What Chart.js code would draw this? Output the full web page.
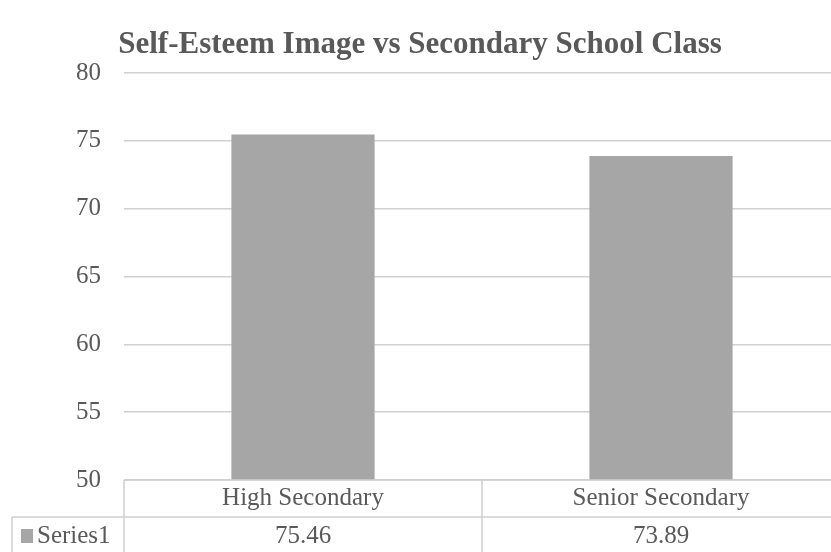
<!DOCTYPE html>
<html>
<head>
<meta charset="utf-8">
<script src="https://cdn.jsdelivr.net/npm/chart.js@4/dist/chart.umd.min.js"></script>
<style>
  html, body { margin: 0; padding: 0; background: #fff; overflow: hidden; }
  #wrap { width: 842px; height: 552px; }
</style>
</head>
<body>
<div id="wrap"><canvas id="c" width="842" height="552"></canvas></div>
<script>
const titleText = 'Self-Esteem Image vs Secondary School Class';
const categories = ['High Secondary', 'Senior Secondary'];
const seriesName = 'Series1';
const values = [75.46, 73.89];
const valueLabels = ['75.46', '73.89'];
const yMin = 50, yMax = 80, yStep = 5;

const textColor = '#595959';
const lineColor = '#d0d0d0';
const barColor = '#a6a6a6';
const serif = '"Liberation Serif", "Times New Roman", serif';

const dataTable = {
  id: 'dataTable',
  afterDraw(chart) {
    const ctx = chart.ctx;
    const area = chart.chartArea;
    const x = chart.scales.x;
    const n = categories.length;
    const catW = (area.right - area.left) / n;
    const top = area.bottom;
    const mid = 517;
    const bottom = chart.height;
    const rowLeft = 12;
    ctx.save();
    ctx.strokeStyle = lineColor;
    ctx.lineWidth = 1.5;
    ctx.beginPath();
    ctx.moveTo(area.left, top); ctx.lineTo(area.right, top);
    ctx.moveTo(rowLeft, mid); ctx.lineTo(area.right, mid);
    ctx.moveTo(rowLeft, mid); ctx.lineTo(rowLeft, bottom);
    for (let i = 0; i <= n; i++) {
      const cx = x.getPixelForValue(i) - catW / 2;
      ctx.moveTo(cx, top); ctx.lineTo(cx, bottom);
    }
    ctx.stroke();
    ctx.fillStyle = textColor;
    ctx.font = '25px ' + serif;
    ctx.textAlign = 'center';
    ctx.textBaseline = 'alphabetic';
    for (let i = 0; i < n; i++) {
      const cx = x.getPixelForValue(i);
      ctx.fillText(categories[i], cx, 505);
      ctx.fillText(valueLabels[i], cx, 543);
    }
    ctx.fillStyle = barColor;
    ctx.fillRect(21, 529, 12, 14);
    ctx.fillStyle = textColor;
    ctx.textAlign = 'left';
    ctx.fillText(seriesName, 37, 543);
    ctx.restore();
  }
};

new Chart(document.getElementById('c'), {
  type: 'bar',
  data: {
    labels: categories,
    datasets: [{
      label: seriesName,
      data: values,
      backgroundColor: barColor,
      borderWidth: 0,
      categoryPercentage: 1,
      barPercentage: 0.4
    }]
  },
  options: {
    responsive: false,
    animation: false,
    layout: { padding: { left: 0, right: 2, top: 0, bottom: 72 } },
    plugins: {
      legend: { display: false },
      tooltip: { enabled: false },
      title: {
        display: true,
        text: titleText,
        color: textColor,
        font: { family: serif, size: 31, weight: 'bold', lineHeight: 1.2 },
        padding: { top: 26, bottom: 9.8 }
      }
    },
    scales: {
      x: { display: false },
      y: {
        min: yMin, max: yMax,
        afterFit(s) { s.width = 124; },
        ticks: { stepSize: yStep, color: textColor, padding: 23,
                 font: { family: serif, size: 25 } },
        grid: { color: lineColor, lineWidth: 1.5, drawTicks: false },
        border: { display: false }
      }
    }
  },
  plugins: [dataTable]
});
</script>
</body>
</html>
